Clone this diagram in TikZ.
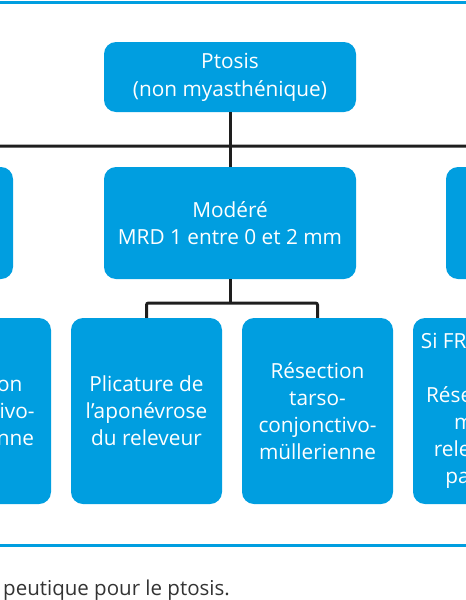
\documentclass[tikz,border=0pt]{standalone}
\usepackage{fontspec}
\setmainfont{Open Sans}
\definecolor{boxblue}{HTML}{009EE0}
\definecolor{linegray}{HTML}{1E1E1E}
\definecolor{capgray}{HTML}{333333}
\tikzset{
  algobox/.style={fill=boxblue, rounded corners=12pt, text=white, align=center,
    inner sep=0pt, font=\fontsize{20.8}{27}\selectfont},
  toprow/.style={algobox, minimum width=252pt, minimum height=70pt,
    font=\fontsize{20.8}{28}\selectfont},
  midrow/.style={algobox, minimum width=252pt, minimum height=112pt},
  lowrow/.style={algobox, minimum width=151pt, minimum height=186pt},
  algoline/.style={draw=linegray, line width=3pt, rounded corners=2pt},
  rule/.style={draw=boxblue, line width=3pt},
}
\begin{document}
\begin{tikzpicture}[x=1pt,y=-1pt]
  \useasboundingbox (0.000000,0.000000) rectangle (466.000000,600.000000);
  \clip (0.000000,0.000000) rectangle (466.000000,600.000000);
  {
  % Drawing frame rules
  \draw [rule] (0.000000,2.000000) -- (466.000000,2.000000);%
  \draw [rule] (0.000000,545.000000) -- (466.000000,545.000000);%

  % Marking box ptosis
  \node [toprow] (ptosis) at (230.000000,77.000000) {Ptosis\\(non myasthénique)};%

  % Marking boxes of degree
  \node [midrow] (leger) at (-113.000000,223.000000) {};%
  \node [midrow] (modere) at (230.000000,223.000000) {Modéré\\MRD 1 entre 0 et 2 mm};%
  \node [midrow] (severe) at (572.000000,223.000000) {};%

  % Marking boxes of treatment
  \node [lowrow] (conjleft) at (-24.500000,411.000000) {Résection\\conjonctivo-\\müllerienne};%
  \node [lowrow] (plicature) at (146.500000,411.000000) {Plicature de\\l’aponévrose\\du releveur};%
  \node [lowrow] (resection) at (317.500000,411.000000) {Résection\\tarso-\\conjonctivo-\\müllerienne};%
  \node [lowrow] (releveur) at (488.500000,411.000000) {Si FRL > 4 mm\\ \\Résection du\\muscle\\releveur de\\paupière};%

  % Drawing branch points
  \coordinate (fork1) at (230.000000,146.000000);%
  \coordinate (fork2) at (230.000000,303.000000);%

  % Drawing line from ptosis
  \draw [algoline] (ptosis.south) -- (fork1);%
  \draw [algoline] (leger.north) |- (fork1) -| (severe.north);%
  \draw [algoline] (fork1) -- (modere.north);%

  % Drawing line from modere
  \draw [algoline] (modere.south) -- (fork2);%
  \draw [algoline] (plicature.north) |- (fork2) -| (resection.north);%

  % Drawing lines to cut boxes
  \draw [algoline] (leger.south) |- ++(88.500000,80.000000) -- (conjleft.north);%
  \draw [algoline] (severe.south) |- ++(-83.500000,80.000000) -- (releveur.north);%

  % Marking caption
  \node [anchor=base west, inner sep=0pt, text=capgray, font=\fontsize{20.5}{24}\selectfont]
    (caption) at (3.000000,595.000000) {peutique pour le ptosis.};%
  }
\end{tikzpicture}
\end{document}
